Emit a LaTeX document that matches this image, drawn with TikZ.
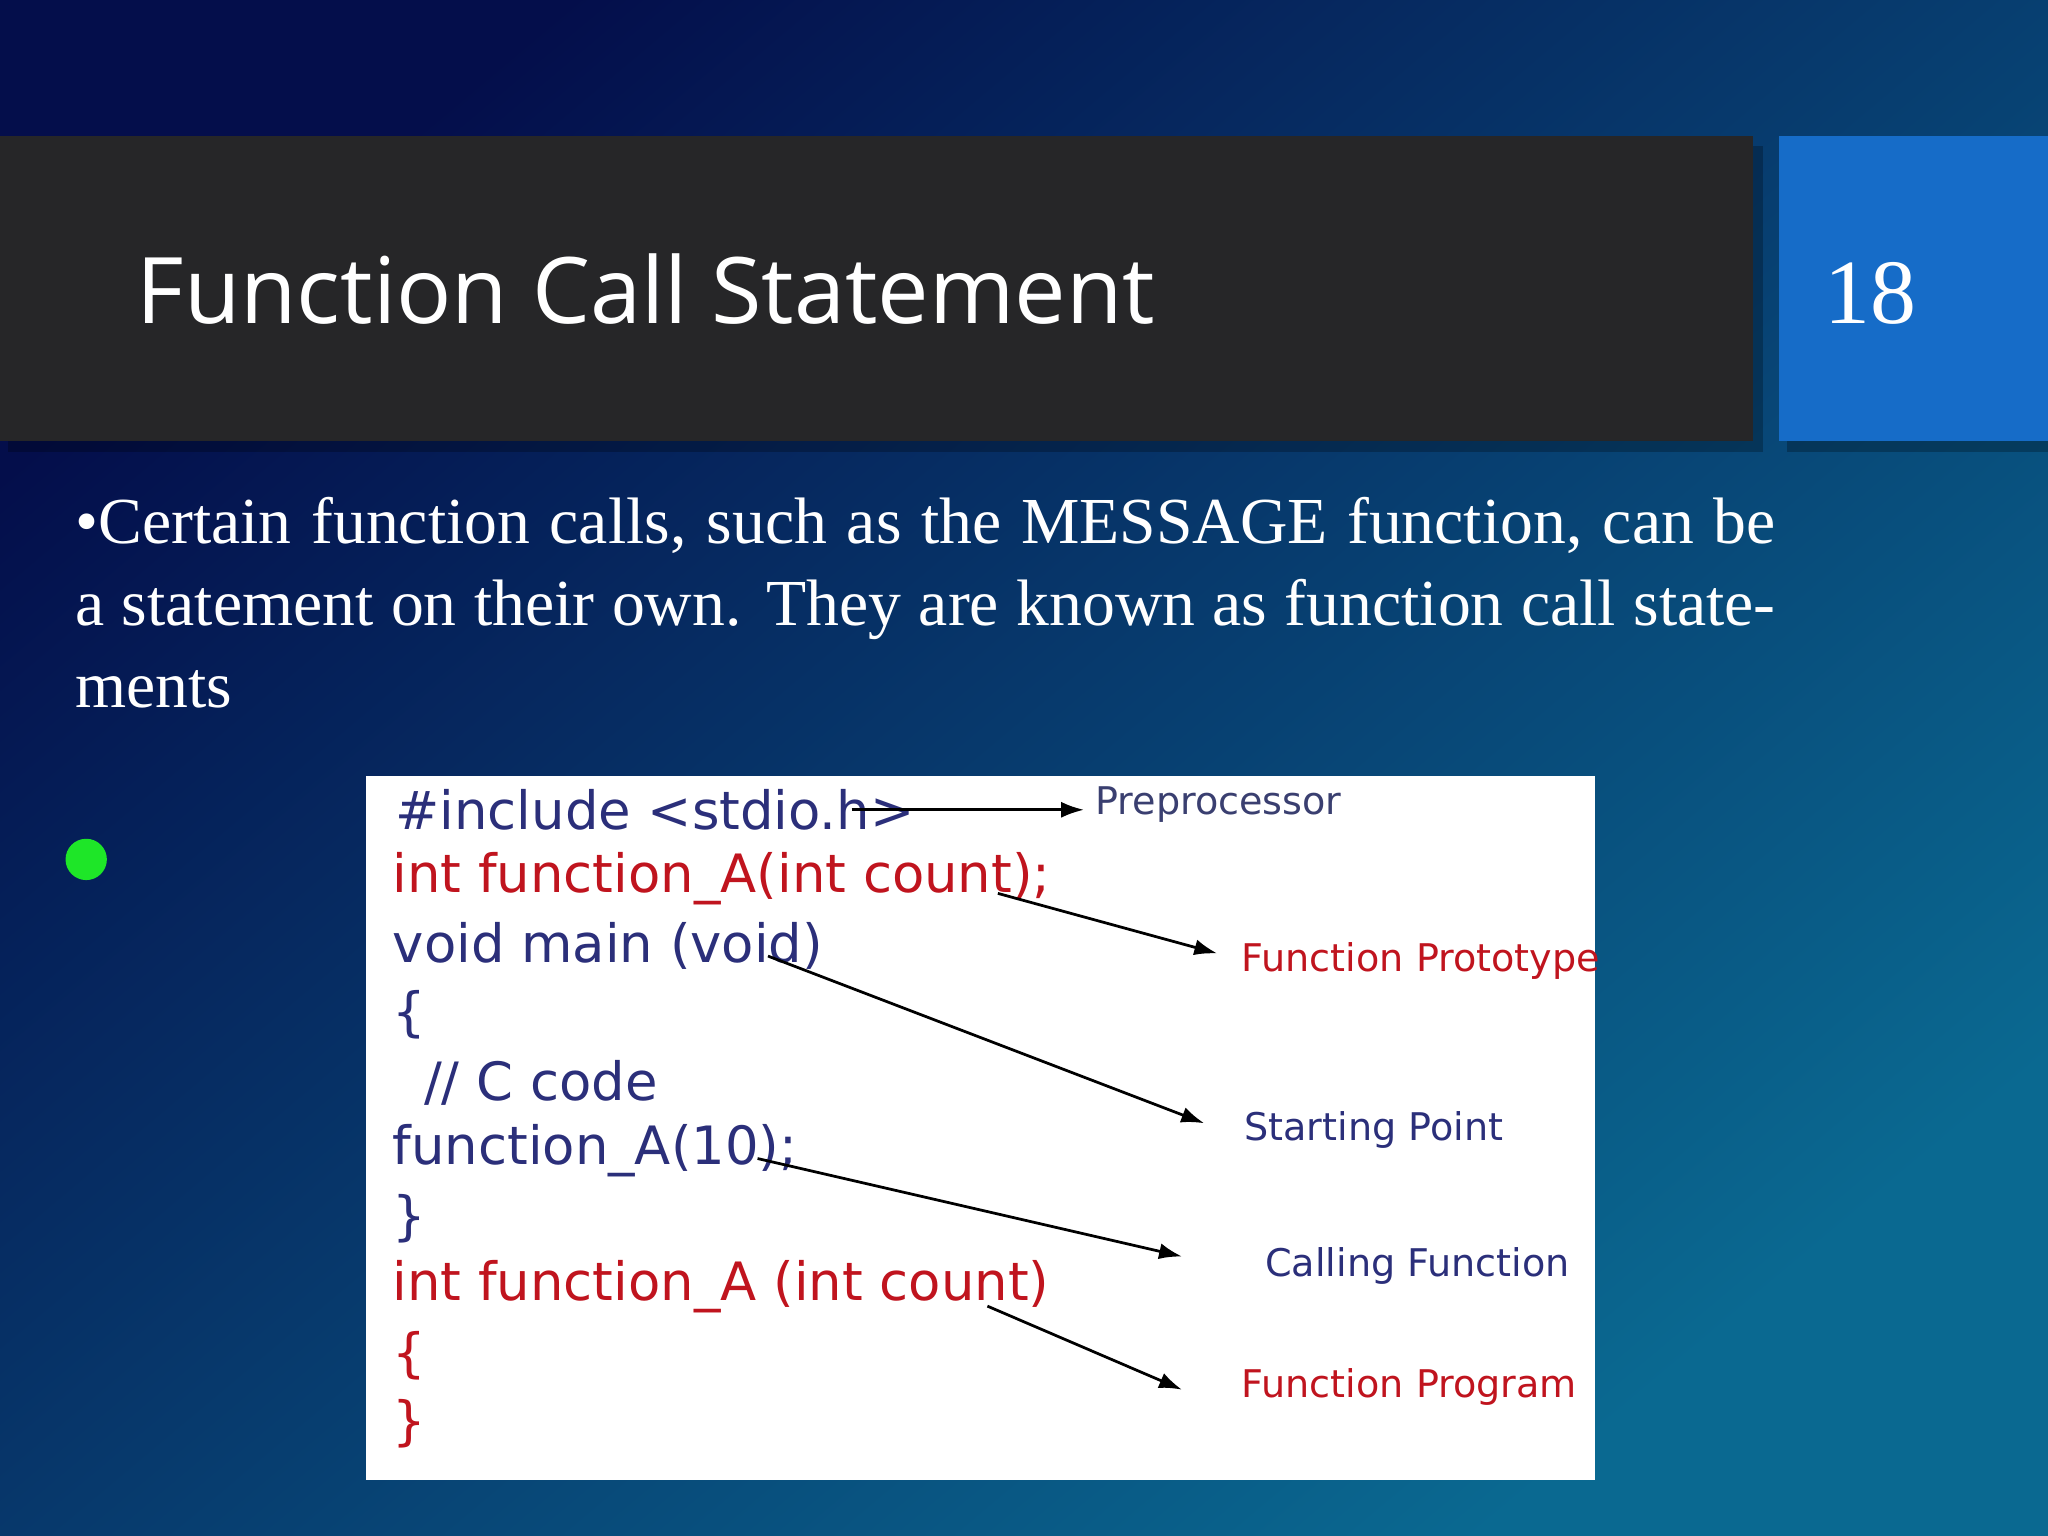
\documentclass[tikz,border=0pt]{standalone}
\usepackage{fontspec}
\setmainfont{Liberation Serif}
\setsansfont{Open Sans}
\newfontfamily\codefont{DejaVu Sans}
\usetikzlibrary{arrows.meta}
\definecolor{navy}{HTML}{2B2F7A}
\definecolor{cred}{HTML}{C0141E}
\definecolor{lgray}{HTML}{3A3F70}
\definecolor{bgul}{RGB}{4,14,75}
\definecolor{bglr}{RGB}{10,105,145}
\definecolor{bar}{RGB}{38,38,40}
\definecolor{numbox}{RGB}{22,108,200}
\definecolor{gbul}{RGB}{30,230,40}
\begin{document}
\begin{tikzpicture}[x=0.01cm,y=-0.01cm,
  code/.style={anchor=west,inner sep=0,font=\codefont\fontsize{11.5}{12}\selectfont},
  lab/.style={anchor=west,inner sep=0,font=\codefont\fontsize{8.3}{9}\selectfont},
  arr/.style={-{Latex[length=5pt,width=3.5pt]},line width=0.6pt,black}]
\useasboundingbox (0,0) rectangle (1568,1176);
\shade[top color=bgul,bottom color=bglr,shading angle=40] (0,0) rectangle (1568,1176);
\fill[black,opacity=0.25] (6,112) rectangle (1350,346);
\fill[black,opacity=0.25] (1368,112) rectangle (1568,346);
\fill[bar] (0,104) rectangle (1342,338);
\fill[numbox] (1362,104) rectangle (1568,338);
\node[anchor=west,inner sep=0,text=white,font=\sffamily\fontsize{20}{24}\selectfont] (title) at (104,221) {Function Call Statement};
\node[anchor=west,inner sep=0,text=white,font=\fontsize{20}{24}\selectfont] (num) at (1396,225) {18};
\node[anchor=north west,inner sep=0,text=white,text width=13.01cm,align=justify,font=\fontsize{14.3}{17.9}\selectfont] (body) at (57,380)
 {\textbullet Certain function calls, such as the MESSAGE function, can be a statement on their own. They are known as function call statements};
\node[circle,fill=gbul,inner sep=0,minimum size=9pt] (gb) at (66,658) {};
\fill[white] (280,594) rectangle (1221,1133);
\node[code,text=navy] (c1) at (302,620) {\#include <stdio.h>};
\node[code,text=cred] (c2) at (300,673) {int function\_A(int count);};
\node[code,text=navy] (c3) at (300,724) {void main (void)};
\node[code,text=navy] (c4) at (300,777) {\{};
\node[code,text=navy] (c5) at (324,829) {// C code};
\node[code,text=navy] (c6) at (300,881) {function\_A(10);};
\node[code,text=navy] (c7) at (300,933) {\}};
\node[code,text=cred] (c8) at (300,985) {int function\_A (int count)};
\node[code,text=cred] (c9) at (300,1038) {\{};
\node[code,text=cred] (c10) at (300,1090) {\}};
\node[lab,text=lgray] (l1) at (838,616) {Preprocessor};
\node[lab,text=cred] (l2) at (950,736) {Function Prototype};
\node[lab,text=navy] (l3) at (952,865) {Starting Point};
\node[lab,text=navy] (l4) at (968,969) {Calling Function};
\node[lab,text=cred] (l5) at (950,1062) {Function Program};
\coordinate (e1) at (830,620);
\coordinate (e2) at (932,730);
\coordinate (e3) at (922,860);
\coordinate (e4) at (905,962);
\coordinate (e5) at (905,1064);
\draw[arr] (652,620) -- (e1);
\draw[arr] (764,684) -- (e2);
\draw[arr] (588,732) -- (e3);
\draw[arr] (580,887) -- (e4);
\draw[arr] (756,1000) -- (e5);
\end{tikzpicture}
\end{document}
